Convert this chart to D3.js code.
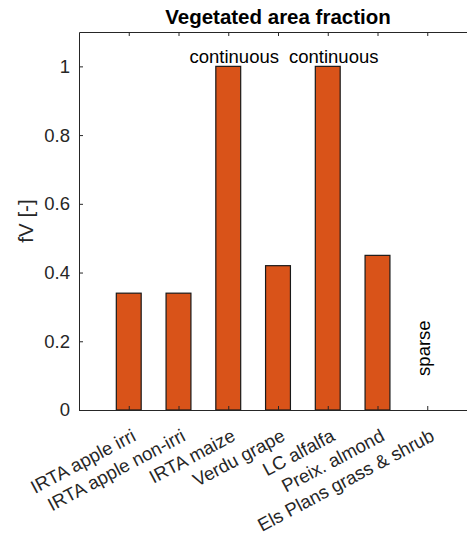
<!DOCTYPE html>
<html>
<head>
<meta charset="utf-8">
<script src="https://cdn.jsdelivr.net/npm/d3@7"></script>
<style>
  body { margin: 0; background: #fff; overflow: hidden; }
  text { font-family: Arial, "Liberation Sans", sans-serif; }
</style>
</head>
<body>
<svg id="chart" width="467" height="539"></svg>
<script>
// Données
const sites = ["IRTA apple irri", "IRTA apple non-irri", "IRTA maize", "Verdu grape",
               "LC alfalfa", "Preix. almond", "Els Plans grass & shrub"];
const fV = [0.34, 0.34, 1, 0.42, 1, 0.45, 0];
const yTicks = [0, 0.2, 0.4, 0.6, 0.8, 1];
const notes = [
    {pos: 3, value: 1, text: "continuous"},
    {pos: 5, value: 1, text: "continuous"}
];
const sparseNote = {pos: 7, value: 0.18, text: "sparse"};

const svg = d3.select('#chart');
const margin = {top: 32, left: 79};
const plotW = 398, plotH = 378;
const g = svg.append('g').attr('transform', `translate(${margin.left},${margin.top})`);

// Échelles (xlim [0 8], ylim [0 1.1])
const x = d3.scaleLinear().domain([0, 8]).range([0, plotW]);
const y = d3.scaleLinear().domain([0, 1.1]).range([plotH, 0]);
const barW = x(0.5) - x(0);
const axisColor = '#262626';
const fs = '18.5px';

// Barres
g.selectAll('.bar')
    .data(fV)
    .enter().append('rect')
    .attr('class', 'bar')
    .attr('x', (d, i) => x(i + 1) - barW / 2)
    .attr('y', d => y(d))
    .attr('width', barW)
    .attr('height', d => plotH - y(d))
    .attr('fill', '#d95319')
    .attr('stroke', '#1a1a1a')
    .attr('stroke-width', 1.2)
    .style('display', d => d > 0 ? null : 'none');

// Axes (ticks vers l'intérieur, style MATLAB)
const xIdx = d3.range(1, sites.length + 1);
const axBottom = g.append('g')
    .attr('transform', `translate(0,${plotH})`)
    .call(d3.axisBottom(x).tickValues(xIdx).tickSize(-4).tickSizeOuter(0).tickFormat(''));
const axTop = g.append('g')
    .call(d3.axisTop(x).tickValues(xIdx).tickSize(-4).tickSizeOuter(0).tickFormat(''));
const axLeft = g.append('g')
    .call(d3.axisLeft(y).tickValues(yTicks).tickSize(-4).tickSizeOuter(0)
        .tickFormat(d => d3.format('~g')(d)));
[axBottom, axTop, axLeft].forEach(a => {
    a.select('.domain').attr('stroke', axisColor).attr('stroke-width', 1);
    a.selectAll('.tick line').attr('stroke', axisColor);
});
axLeft.selectAll('text')
    .attr('x', -9)
    .attr('fill', axisColor)
    .style('font-size', fs);

// Étiquettes X inclinées
g.selectAll('.xlab')
    .data(sites)
    .enter().append('text')
    .attr('class', 'xlab')
    .attr('transform', (d, i) => `translate(${x(i + 1) + 2},${plotH + 18}) rotate(-28)`)
    .attr('text-anchor', 'end')
    .attr('dy', '0.72em')
    .attr('fill', axisColor)
    .style('font-size', fs)
    .text(d => d);

// Annotations
g.selectAll('.note')
    .data(notes)
    .enter().append('text')
    .attr('x', d => x(d.pos) + 6)
    .attr('y', d => y(d.value) - 3)
    .attr('text-anchor', 'middle')
    .attr('fill', '#000')
    .style('font-size', fs)
    .text(d => d.text);

g.append('text')
    .attr('transform', `translate(${x(sparseNote.pos) + 3},${y(sparseNote.value)}) rotate(-90)`)
    .attr('text-anchor', 'middle')
    .attr('fill', '#000')
    .style('font-size', fs)
    .text(sparseNote.text);

// Titre et label Y
svg.append('text')
    .attr('x', margin.left + plotW / 2)
    .attr('y', 23.5)
    .attr('text-anchor', 'middle')
    .style('font-size', '20.5px')
    .style('font-weight', 'bold')
    .text('Vegetated area fraction');

svg.append('text')
    .attr('transform', `translate(33,${margin.top + plotH / 2}) rotate(-90)`)
    .attr('text-anchor', 'middle')
    .attr('fill', axisColor)
    .style('font-size', '20.5px')
    .text('fV [-]');
</script>
</body>
</html>
